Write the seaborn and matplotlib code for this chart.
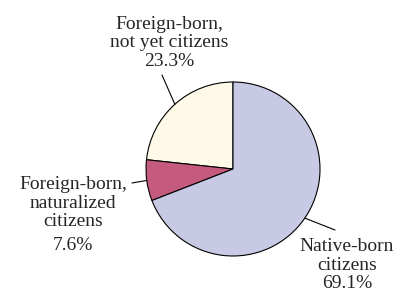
import numpy as np
import matplotlib
matplotlib.use("Agg")
import matplotlib.pyplot as plt
import seaborn as sns

# Dane
groups = ["Foreign-born,\nnot yet citizens", "Foreign-born,\nnaturalized\ncitizens", "Native-born\ncitizens"]
shares = [23.3, 7.6, 69.1]
colors = ["#FEFAE8", "#C45A7E", "#C8C9E4"]

sns.set_style("white")
plt.rcParams["font.family"] = ["Liberation Serif", "DejaVu Serif"]

W, H = 406, 292
fig = plt.figure(figsize=(W / 100, H / 100), dpi=100)
ax = fig.add_axes([0, 0, 1, 1])

cx, cy, r = 233, 123, 87
wedges, _ = ax.pie(shares, colors=colors, startangle=90, counterclock=True,
                   center=(cx, cy), radius=r, frame=True,
                   wedgeprops=dict(edgecolor="black", linewidth=0.8))
ax.set_xlim(0, W)
ax.set_ylim(0, H)
ax.set_aspect("equal")
ax.axis("off")

# pozycje etykiet (tekst, koniec linii)
text_pos = [(169, 249), (73, 89), (347, 27)]
pct_pos = [None, (73, 47), None]
line_end = [(162, 217), (132, 109), (335, 62)]
fs = 14

for w, g, s, tp, pp, le in zip(wedges, groups, shares, text_pos, pct_pos, line_end):
    ang = np.deg2rad((w.theta1 + w.theta2) / 2)
    edge = (cx + r * np.cos(ang), cy + r * np.sin(ang))
    ax.plot([edge[0], le[0]], [edge[1], le[1]], color="black", lw=0.8)
    if pp is None:
        ax.text(tp[0], tp[1], f"{g}\n{s:.1f}%", ha="center", va="center",
                multialignment="center", fontsize=fs, linespacing=1.1)
    else:
        ax.text(tp[0], tp[1], g, ha="center", va="center",
                multialignment="center", fontsize=fs, linespacing=1.1)
        ax.text(pp[0], pp[1], f"{s:.1f}%", ha="center", va="center", fontsize=fs)

fig.savefig("out.png", dpi=100)
